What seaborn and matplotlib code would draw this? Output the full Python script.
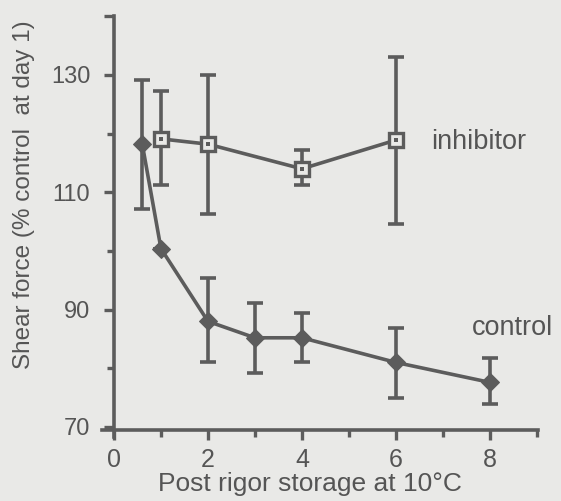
import matplotlib
matplotlib.use("Agg")
import matplotlib.pyplot as plt
import seaborn as sns
import pandas as pd

# Data
control_days = [0.6, 1, 2, 3, 4, 6, 8]
control_mean = [118.3, 100.4, 88.0, 85.2, 85.2, 81.0, 77.6]
control_hi = [129.1, 100.4, 95.4, 91.1, 89.4, 86.9, 81.8]
control_lo = [107.2, 100.4, 81.0, 79.2, 81.0, 74.9, 74.0]

inhib_days = [1, 2, 4, 6]
inhib_mean = [119.1, 118.2, 114.0, 118.9]
inhib_hi = [127.3, 130.0, 117.2, 133.0]
inhib_lo = [111.3, 106.3, 111.2, 104.6]

x_ticks = [0, 2, 4, 6, 8]
y_ticks = [70, 90, 110, 130]
x_label = "Post rigor storage at 10°C"
y_label = "Shear force (% control  at day 1)"

sns.set_theme(style="ticks")
plt.rcParams['font.family'] = ['Liberation Sans', 'DejaVu Sans']

BG = "#e9e9e7"
INK = "#5c5c5c"
TXT = "#555555"

fig = plt.figure(figsize=(5.61, 5.01), dpi=100, facecolor=BG)
ax = fig.add_axes([0.178, 0.1243, 0.796, 0.855], facecolor=BG)

ctrl = pd.DataFrame({"day": control_days, "val": control_mean})
inh = pd.DataFrame({"day": inhib_days, "val": inhib_mean})

# error bars
for days, m, hi, lo in [(control_days, control_mean, control_hi, control_lo),
                        (inhib_days, inhib_mean, inhib_hi, inhib_lo)]:
    yerr = [[mm - l for mm, l in zip(m, lo)], [h - mm for mm, h in zip(m, hi)]]
    ax.errorbar(days, m, yerr=yerr, fmt="none", ecolor=INK, elinewidth=2.6,
                capsize=5.5, capthick=2.6, zorder=2)

sns.lineplot(data=ctrl, x="day", y="val", ax=ax, color=INK, linewidth=2.6,
             marker="D", markersize=9, markerfacecolor=INK, markeredgecolor=INK,
             sort=False, zorder=3)
sns.lineplot(data=inh, x="day", y="val", ax=ax, color=INK, linewidth=2.6,
             marker="s", markersize=10.5, markerfacecolor=BG, markeredgecolor=INK,
             markeredgewidth=2.4, sort=False, zorder=3)
sns.scatterplot(data=inh, x="day", y="val", ax=ax, color=INK, s=6, marker="s",
                edgecolor=INK, linewidth=0, zorder=4)

ax.set_xlim(-0.3, 9.2)
ax.set_ylim(68, 141)
ax.spines["left"].set_position(("data", 0))
ax.spines["bottom"].set_position(("data", 69.5))
ax.spines["left"].set_bounds(68.3, 140)
ax.spines["bottom"].set_bounds(-0.25, 9.02)
ax.spines["top"].set_visible(False)
ax.spines["right"].set_visible(False)
for s in ("left", "bottom"):
    ax.spines[s].set_color(INK)
    ax.spines[s].set_linewidth(2.6)

ax.set_xticks(x_ticks)
ax.set_xticks([1, 3, 5, 7, 9], minor=True)
ax.set_yticks(y_ticks + [140])
ax.set_yticklabels([str(v) for v in y_ticks] + [""])
ax.set_yticks([80, 100, 120], minor=True)
ax.tick_params(axis="both", which="major", length=7, width=2.4, color=INK,
               labelcolor=TXT, direction="out")
ax.tick_params(axis="both", which="minor", length=5, width=2.4, color=INK,
               direction="out")
ax.tick_params(axis="x", labelsize=18, pad=6)
ax.tick_params(axis="y", labelsize=17, pad=10)

ax.set_xlabel(x_label, fontsize=19, color=TXT, labelpad=0)
ax.set_ylabel(y_label, fontsize=17.5, color=TXT, labelpad=0)
ax.yaxis.set_label_coords(-0.145, 0.57)
ax.xaxis.set_label_coords(0.47, -0.078)

ax.text(6.75, 118.6, "inhibitor", fontsize=19.5, color=TXT, va="center", ha="left")
ax.text(7.62, 86.8, "control", fontsize=19.5, color=TXT, va="center", ha="left")

fig.savefig("out.png", dpi=100, facecolor=BG)
